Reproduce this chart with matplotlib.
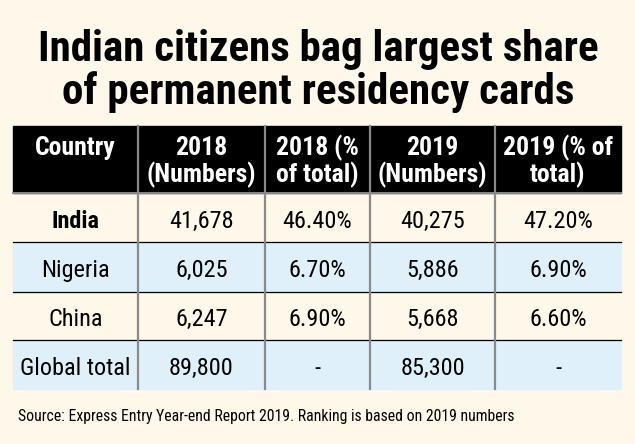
import matplotlib.pyplot as plt
from matplotlib.patches import Rectangle

# data
headers = ["Country", "2018\n(Numbers)", "2018 (%\nof total)", "2019\n(Numbers)", "2019 (% of\ntotal)"]
countries = ["India", "Nigeria", "China", "Global total"]
numbers_2018 = [41678, 6025, 6247, 89800]
share_2018 = [46.4, 6.7, 6.9, None]
numbers_2019 = [40275, 5886, 5668, 85300]
share_2019 = [47.2, 6.9, 6.6, None]

title_lines = ["Indian citizens bag largest share", "of permanent residency cards"]
source = "Source: Express Entry Year-end Report 2019. Ranking is based on 2019 numbers"

bg = "#fdf8ea"
blue = "#dff0fa"
font = ["Roboto Condensed", "DejaVu Sans"]

fig = plt.figure(figsize=(6.35, 4.44), dpi=100, facecolor=bg)
ax = fig.add_axes([0, 0, 1, 1])
ax.set_xlim(0, 635)
ax.set_ylim(444, 0)
ax.axis("off")

# title
for line, yb in zip(title_lines, [61, 104]):
    ax.text(318, yb, line, ha="center", va="baseline", fontsize=31, fontweight="bold", family=font)

col_x = [13, 138, 265, 370, 495, 621]
row_y = [126, 193, 242, 292, 340, 389]

# header
ax.add_patch(Rectangle((col_x[0], row_y[0]), col_x[-1] - col_x[0], row_y[1] - row_y[0],
                       color="black", zorder=1))
for i, h in enumerate(headers):
    cx = (col_x[i] + col_x[i + 1]) / 2
    for line, yb in zip(h.split("\n"), [155, 182]):
        ax.text(cx, yb, line, ha="center", va="baseline", color="white",
                fontsize=18.5, fontweight="bold", family=font, zorder=3)


def fmt_num(v):
    return f"{v:,}"


def fmt_pct(v):
    return "-" if v is None else f"{v:.2f}%"


for r in range(len(countries)):
    y0, y1 = row_y[r + 1], row_y[r + 2]
    if r % 2 == 1:
        ax.add_patch(Rectangle((col_x[0], y0), col_x[-1] - col_x[0], y1 - y0,
                               color=blue, zorder=1))
    cells = [countries[r], fmt_num(numbers_2018[r]), fmt_pct(share_2018[r]),
             fmt_num(numbers_2019[r]), fmt_pct(share_2019[r])]
    for c, txt in enumerate(cells):
        cx = (col_x[c] + col_x[c + 1]) / 2
        wt = "bold" if (c == 0 and r == 0) else "normal"
        ax.text(cx, (y0 + y1) / 2 + 10, txt, ha="center", va="baseline", fontsize=17.5,
                fontweight=wt, family=font, zorder=3)
    if r < len(countries) - 1:
        ax.plot([col_x[0], col_x[-1]], [y1, y1], color="black", lw=0.9, zorder=2)

# column separators
for x in col_x[1:-1]:
    ax.plot([x, x], [row_y[0], row_y[-1]], color="#8a8a8a", lw=1.6, zorder=2)
ax.plot([col_x[0], col_x[-1]], [row_y[1], row_y[1]], color="#8a8a8a", lw=1.4, zorder=2)

ax.text(18, 421, source, ha="left", va="baseline", fontsize=11.3, family=font)

fig.savefig("out.png", dpi=100, facecolor=bg)
